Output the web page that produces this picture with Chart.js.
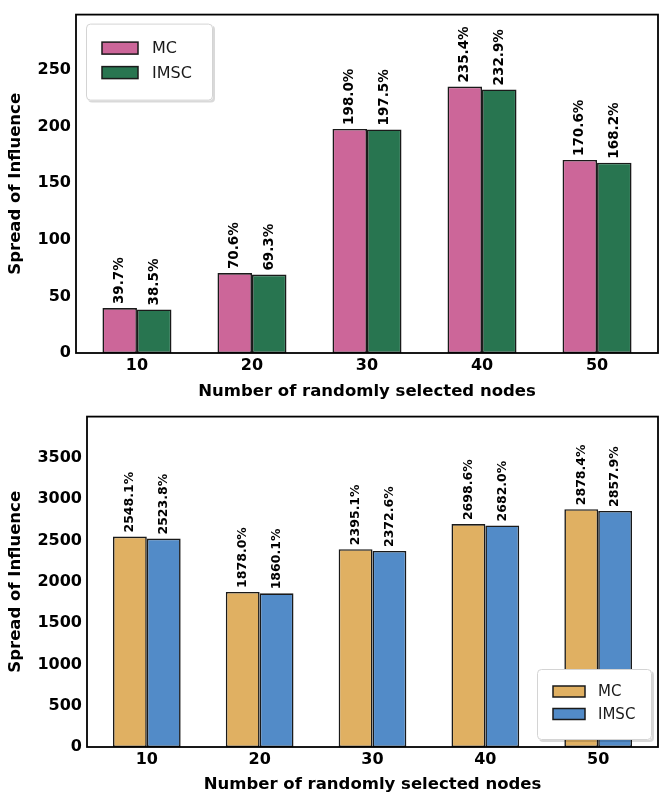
<!DOCTYPE html>
<html>
<head>
<meta charset="utf-8">
<script src="https://cdn.jsdelivr.net/npm/chart.js@4.4.1/dist/chart.umd.min.js"></script>
<style>
  html, body { margin: 0; padding: 0; background: #fff; }
  body { width: 660px; height: 795px; position: relative; overflow: hidden; }
  canvas { position: absolute; left: 0; }
</style>
</head>
<body>
<canvas id="c1" width="660" height="402" style="top:0"></canvas>
<canvas id="c2" width="660" height="393" style="top:402px"></canvas>
<script>
// ---- data ----
const nodes = [10, 20, 30, 40, 50];
const seriesNames = ['MC', 'IMSC'];
const top_MC = [39.7, 70.6, 198.0, 235.4, 170.6];
const top_IMSC = [38.5, 69.3, 197.5, 232.9, 168.2];
const bottom_MC = [2548.1, 1878.0, 2395.1, 2698.6, 2878.4];
const bottom_IMSC = [2523.8, 1860.1, 2372.6, 2682.0, 2857.9];
const top_yTicks = [0, 50, 100, 150, 200, 250];
const bottom_yTicks = [0, 500, 1000, 1500, 2000, 2500, 3000, 3500];
const xTitle = 'Number of randomly selected nodes';
const yTitle = 'Spread of Influence';

const FONT = "'DejaVu Sans', sans-serif";

function framePlugin() {
  return {
    id: 'frame',
    afterDraw(chart) {
      const {ctx, chartArea: a} = chart;
      ctx.save();
      ctx.strokeStyle = '#000';
      ctx.lineWidth = 1.8;
      ctx.strokeRect(a.left, a.top, a.right - a.left, a.bottom - a.top);
      ctx.restore();
    }
  };
}

function labelPlugin(fontSize) {
  return {
    id: 'valueLabels',
    afterDatasetsDraw(chart) {
      const ctx = chart.ctx;
      ctx.save();
      ctx.font = 'bold ' + fontSize + 'px ' + FONT;
      ctx.fillStyle = '#000';
      ctx.textAlign = 'left';
      ctx.textBaseline = 'middle';
      chart.data.datasets.forEach((ds, di) => {
        const meta = chart.getDatasetMeta(di);
        meta.data.forEach((el, i) => {
          const v = ds.data[i].y;
          ctx.save();
          ctx.translate(el.x, el.y - 4);
          ctx.rotate(-Math.PI / 2);
          ctx.fillText(v.toFixed(1) + '%', 0, 0);
          ctx.restore();
        });
      });
      ctx.restore();
    }
  };
}

function roundRect(ctx, x, y, w, h, r) {
  ctx.beginPath();
  ctx.moveTo(x + r, y);
  ctx.lineTo(x + w - r, y);
  ctx.quadraticCurveTo(x + w, y, x + w, y + r);
  ctx.lineTo(x + w, y + h - r);
  ctx.quadraticCurveTo(x + w, y + h, x + w - r, y + h);
  ctx.lineTo(x + r, y + h);
  ctx.quadraticCurveTo(x, y + h, x, y + h - r);
  ctx.lineTo(x, y + r);
  ctx.quadraticCurveTo(x, y, x + r, y);
  ctx.closePath();
}

function legendPlugin(cfg) {
  return {
    id: 'boxLegend',
    afterDraw(chart) {
      const ctx = chart.ctx;
      const a = chart.chartArea;
      let bx, by;
      if (cfg.corner === 'upperleft') { bx = a.left + cfg.dx; by = a.top + cfg.dy; }
      else { bx = a.right - cfg.dx - cfg.w; by = a.bottom - cfg.dy - cfg.h; }
      ctx.save();
      ctx.fillStyle = 'rgba(0,0,0,0.15)';
      roundRect(ctx, bx + 2, by + 2, cfg.w, cfg.h, 4);
      ctx.fill();
      ctx.fillStyle = '#fff';
      roundRect(ctx, bx, by, cfg.w, cfg.h, 4);
      ctx.fill();
      ctx.strokeStyle = '#d4d4d4';
      ctx.lineWidth = 1;
      roundRect(ctx, bx + 0.5, by + 0.5, cfg.w - 1, cfg.h - 1, 4);
      ctx.stroke();
      ctx.font = cfg.fontSize + 'px ' + FONT;
      ctx.textBaseline = 'middle';
      ctx.textAlign = 'left';
      chart.data.datasets.forEach((ds, i) => {
        const cy = by + cfg.firstY + i * cfg.rowGap;
        ctx.fillStyle = ds.backgroundColor;
        ctx.fillRect(bx + cfg.patchX, cy - cfg.patchH / 2, cfg.patchW, cfg.patchH);
        ctx.strokeStyle = '#1a1a1a';
        ctx.lineWidth = 1.5;
        ctx.strokeRect(bx + cfg.patchX, cy - cfg.patchH / 2, cfg.patchW, cfg.patchH);
        ctx.fillStyle = '#1a1a1a';
        ctx.fillText(ds.label, bx + cfg.textX, cy + 1);
      });
      ctx.restore();
    }
  };
}

function makeChart(id, mc, imsc, colors, yTicks, opts) {
  const ctx = document.getElementById(id).getContext('2d');
  const mk = (arr) => nodes.map((x, i) => ({x: x, y: arr[i]}));
  return new Chart(ctx, {
    type: 'bar',
    data: {
      datasets: [
        { label: seriesNames[0], data: mk(mc), backgroundColor: colors[0], borderColor: '#1a1a1a', borderWidth: 1.6, borderSkipped: false },
        { label: seriesNames[1], data: mk(imsc), backgroundColor: colors[1], borderColor: '#1a1a1a', borderWidth: 1.6, borderSkipped: false }
      ]
    },
    options: {
      responsive: false,
      animation: false,
      devicePixelRatio: 1,
      layout: { padding: { left: 0, right: 2, top: opts.padTop, bottom: 0 } },
      datasets: { bar: { categoryPercentage: 0.6, barPercentage: 1.0 } },
      plugins: { legend: { display: false }, tooltip: { enabled: false } },
      scales: {
        x: {
          type: 'linear',
          offset: false,
          min: 4.7, max: 55.3,
          grid: { display: false, drawTicks: false },
          border: { display: false },
          afterBuildTicks(scale) { scale.ticks = nodes.map(v => ({value: v})); },
          ticks: {
            padding: 3, color: '#000',
            callback: (v) => String(v),
            font: { family: FONT, size: 16, weight: 'bold' }
          },
          title: {
            display: true, text: xTitle, color: '#000', padding: { top: 0, bottom: 0 },
            font: { family: FONT, size: 16.5, weight: 'bold' }
          },
          afterFit(scale) { scale.height = opts.xHeight; }
        },
        y: {
          min: 0, max: opts.yMax,
          grid: { display: false, drawTicks: false },
          border: { display: false },
          afterBuildTicks(scale) { scale.ticks = yTicks.map(v => ({value: v})); },
          ticks: {
            padding: 5, color: '#000',
            callback: (v) => String(v),
            font: { family: FONT, size: 16, weight: 'bold' }
          },
          title: {
            display: true, text: yTitle, color: '#000', padding: { top: 6, bottom: 0 },
            font: { family: FONT, size: 16.5, weight: 'bold' }
          },
          afterFit(scale) { scale.width = opts.yWidth; }
        }
      }
    },
    plugins: [labelPlugin(opts.labelSize), framePlugin(), legendPlugin(opts.legend)]
  });
}

makeChart('c1', top_MC, top_IMSC, ['#CC6699', '#287550'], top_yTicks, {
  padTop: 12, xHeight: 49, yWidth: 76, yMax: 299, labelSize: 13.5,
  legend: { corner: 'upperleft', dx: 10, dy: 9, w: 127, h: 77, fontSize: 16,
            patchX: 16, patchW: 36, patchH: 12, firstY: 24.5, rowGap: 24.5, textX: 66 }
});

makeChart('c2', bottom_MC, bottom_IMSC, ['#E0B062', '#528BC8'], bottom_yTicks, {
  padTop: 10, xHeight: 48, yWidth: 87, yMax: 4000, labelSize: 12.5,
  legend: { corner: 'lowerright', dx: 6, dy: 7, w: 115, h: 71, fontSize: 15,
            patchX: 16, patchW: 32, patchH: 11, firstY: 22.5, rowGap: 22.5, textX: 61 }
});
</script>
</body>
</html>
